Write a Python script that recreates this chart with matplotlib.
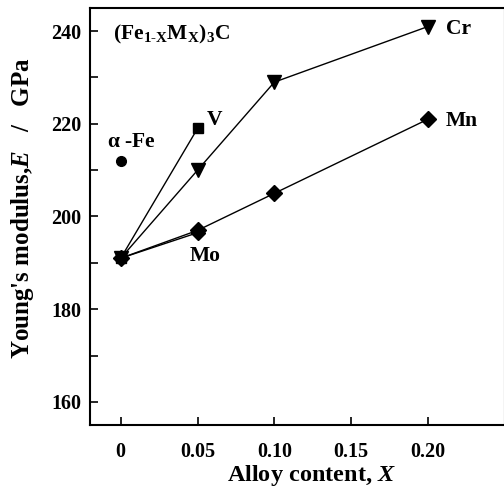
import matplotlib
matplotlib.use("Agg")
import matplotlib.pyplot as plt
from matplotlib.ticker import MultipleLocator, FixedLocator

plt.rcParams['font.family'] = 'Liberation Serif'
plt.rcParams['font.weight'] = 'bold'
plt.rcParams['mathtext.fontset'] = 'custom'
plt.rcParams['mathtext.rm'] = 'Liberation Serif:bold'
plt.rcParams['mathtext.it'] = 'Liberation Serif:italic:bold'
plt.rcParams['mathtext.bf'] = 'Liberation Serif:bold'

# data
fe_x = [0]
fe_y = [212]

v_x = [0, 0.05]
v_y = [191, 219]

cr_x = [0, 0.05, 0.10, 0.20]
cr_y = [191, 210, 229, 241]

mn_x = [0, 0.05, 0.10, 0.20]
mn_y = [191, 197, 205, 221]

mo_x = [0, 0.05]
mo_y = [191, 196.5]

xticks = [0, 0.05, 0.10, 0.15, 0.20]
xticklabels = ['0', '0.05', '0.10', '0.15', '0.20']

fig = plt.figure(figsize=(5.04, 4.87), dpi=100)
ax = fig.add_axes([0.1786, 0.1273, 0.823, 0.8563])

ax.plot(mo_x, mo_y, color='black', lw=1, marker='D', ms=7)
ax.plot(mn_x, mn_y, color='black', lw=1, marker='D', ms=8)
ax.plot(cr_x, cr_y, color='black', lw=1, marker='v', ms=10)
ax.plot(v_x, v_y, color='black', lw=1, marker='s', ms=7.5)
ax.plot(fe_x, fe_y, color='black', lw=0, marker='o', ms=7)

fs = 15.5
ax.text(0.2115, 240.5, 'Cr', fontsize=fs, va='center')
ax.text(0.2115, 220.6, 'Mn', fontsize=fs, va='center')
ax.text(0.0563, 220.9, 'V', fontsize=fs, va='center')
ax.text(-0.009, 216.1, r'$\mathrm{\alpha}$ -Fe', fontsize=fs, va='center')
ax.text(0.0446, 191.4, 'Mo', fontsize=fs, va='center')
ax.text(-0.005, 239.3, r'(Fe$_{\mathrm{1\text{-}X}}$M$_{\mathrm{X}}$)$_{\mathrm{3}}$C',
        fontsize=fs, va='center')

ax.set_xlim(-0.02, 0.25)
ax.set_ylim(155, 245)
ax.xaxis.set_major_locator(FixedLocator(xticks))
ax.set_xticklabels(xticklabels)
ax.yaxis.set_major_locator(MultipleLocator(20))
ax.yaxis.set_minor_locator(MultipleLocator(10))
ax.tick_params(axis='both', which='both', direction='in', labelsize=14.5, width=1.2)
ax.tick_params(which='both', length=6)
ax.tick_params(axis='x', pad=12)
ax.tick_params(axis='y', pad=6)
for s in ax.spines.values():
    s.set_linewidth(1.5)

ax.set_xlabel('Alloy content, $X$', fontsize=17.5, fontweight='bold')
ax.set_ylabel("Young's modulus,$E$   /   GPa", fontsize=18, fontweight='bold')
ax.xaxis.set_label_coords(0.533, -0.09)
ax.yaxis.set_label_coords(-0.13, 0.52)

fig.savefig('out.png', dpi=100)
